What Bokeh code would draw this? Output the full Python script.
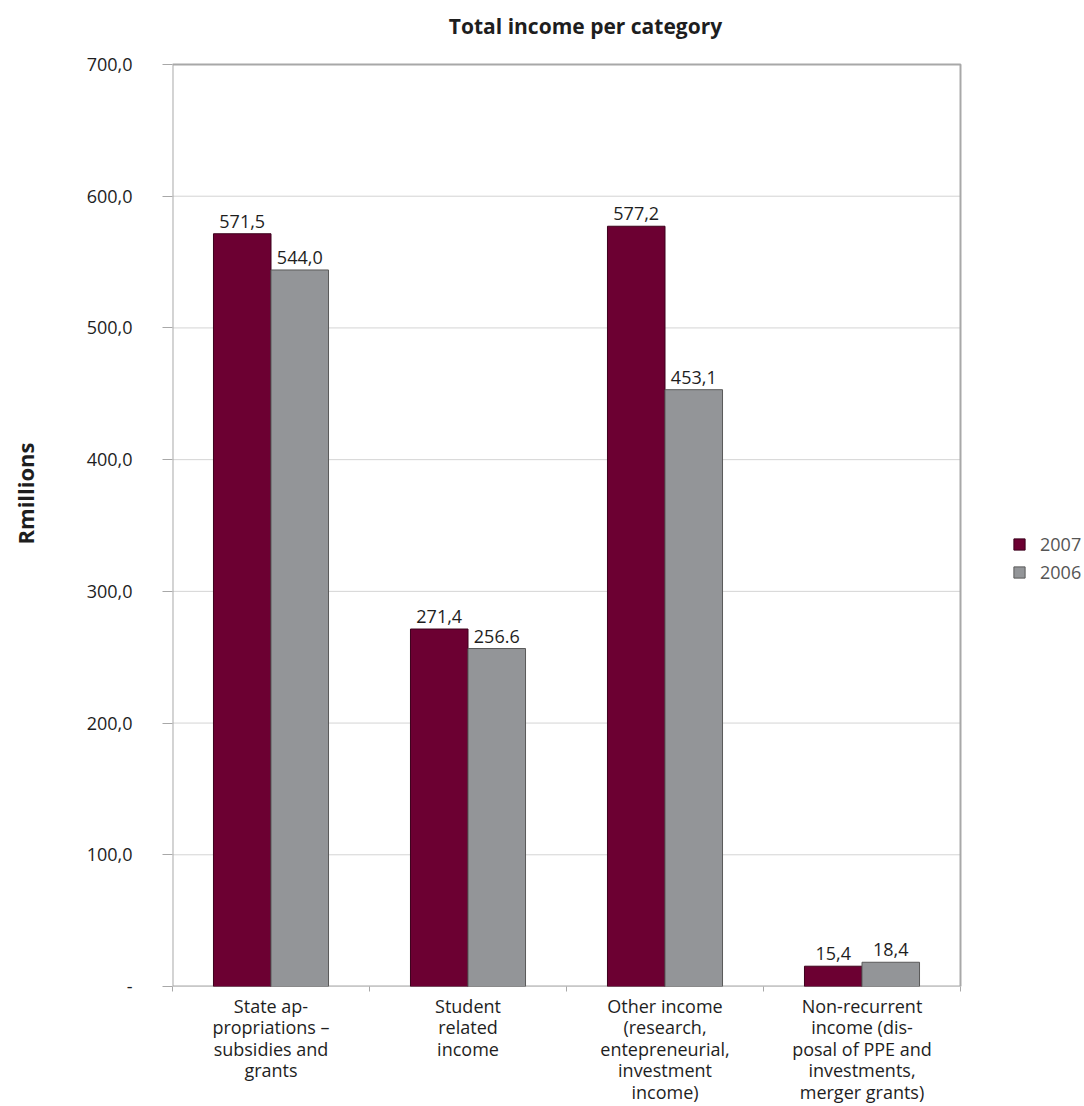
from bokeh.plotting import figure
from bokeh.models import Range1d, FixedTicker, ColumnDataSource, Legend, LegendItem
from bokeh.core.properties import value
from bokeh.embed import file_html
from bokeh.resources import INLINE

categories = [
    "State ap-\npropriations \u2013\nsubsidies and\ngrants",
    "Student\nrelated\nincome",
    "Other income\n(research,\nentepreneurial,\ninvestment\nincome)",
    "Non-recurrent\nincome (dis-\nposal of PPE and\ninvestments,\nmerger grants)",
]
series_names = ["2007", "2006"]
values_2007 = [571.5, 271.4, 577.2, 15.4]
values_2006 = [544.0, 256.6, 453.1, 18.4]
labels_2007 = ["571,5", "271,4", "577,2", "15,4"]
labels_2006 = ["544,0", "256.6", "453,1", "18,4"]
y_ticks = [0, 100, 200, 300, 400, 500, 600, 700]
y_tick_labels = ["-", "100,0", "200,0", "300,0", "400,0", "500,0", "600,0", "700,0"]
title_text = "Total income per category"
y_title = "Rmillions"

FONT = "Open Sans"
TXT = "#1e1e1e"
RED = "#6c0032"
GRAY = "#939598"
BORDER = "#a8a8a8"
FS = "18px"

W, H = 1084, 1106
LEFT, BOTTOM = 172, 120
PLOT_W = 788                      # pixel width of the plotted area (4 categories)
PLOT_TOP = 64                     # pixel y of the 700 line
n = len(categories)
y_max = y_ticks[-1]
frame_w = W - LEFT
frame_h = H - BOTTOM
x_end = n * frame_w / PLOT_W                     # frame extends right to hold the legend
y_end = y_max * frame_h / (frame_h - PLOT_TOP)   # and up to hold the title
px_per_y = (frame_h - PLOT_TOP) / y_max

p = figure(width=W, height=H, x_range=Range1d(0, x_end), y_range=Range1d(0, y_end),
           output_backend="svg", toolbar_location=None,
           min_border_left=LEFT, min_border_right=0, min_border_top=0, min_border_bottom=BOTTOM)
p.outline_line_color = None
p.background_fill_color = "white"
p.border_fill_color = "white"

# grid drawn only over the plotted area
p.xgrid.grid_line_color = None
p.ygrid.grid_line_color = None
p.segment(x0=[0] * len(y_ticks), x1=[n] * len(y_ticks), y0=y_ticks, y1=y_ticks,
          line_color="#d4d4d4", line_width=1)

# y axis
ya = p.yaxis[0]
ya.bounds = (0, y_max)
ya.ticker = FixedTicker(ticks=y_ticks)
ya.major_label_overrides = {t: l for t, l in zip(y_ticks, y_tick_labels)}
ya.major_label_text_font = FONT
ya.major_label_text_font_size = FS
ya.major_label_text_color = TXT
ya.major_label_standoff = 30
ya.major_tick_out = 10
ya.major_tick_in = 0
ya.minor_tick_out = 0
ya.minor_tick_in = 0
ya.major_tick_line_color = BORDER
ya.axis_line_color = None
ya.axis_label = y_title
ya.axis_label_text_font = FONT
ya.axis_label_text_font_size = "22px"
ya.axis_label_text_font_style = "bold"
ya.axis_label_text_color = TXT
ya.axis_label_standoff = 44

# x axis: labels at category centres, small ticks at category boundaries
centres = [i + 0.5 for i in range(n)]
xa = p.xaxis[0]
xa.ticker = FixedTicker(ticks=centres, minor_ticks=list(range(n + 1)))
xa.major_label_overrides = {c: lab for c, lab in zip(centres, categories)}
xa.major_label_text_font = FONT
xa.major_label_text_font_size = FS
xa.major_label_text_color = TXT
xa.major_label_text_line_height = 0.9
xa.major_label_standoff = 2
xa.major_tick_out = 0
xa.major_tick_in = 0
xa.minor_tick_out = 5
xa.minor_tick_in = 0
xa.minor_tick_line_color = BORDER
xa.axis_line_color = None

# plot area border
p.quad(left=[0], right=[n], bottom=[0], top=[y_max], fill_color=None, line_color=BORDER, line_width=2)

w = 0.292
x07 = [c - 0.146 for c in centres]
x06 = [c + 0.146 for c in centres]
src07 = ColumnDataSource(dict(x=x07, top=values_2007, lab=labels_2007))
src06 = ColumnDataSource(dict(x=x06, top=values_2006, lab=labels_2006))

r07 = p.vbar(x="x", top="top", width=w, bottom=0, source=src07, fill_color=RED, line_color="#3c001c", line_width=1)
r06 = p.vbar(x="x", top="top", width=w, bottom=0, source=src06, fill_color=GRAY, line_color="#5a5a5a", line_width=1)

for src in (src07, src06):
    p.text(x="x", y="top", text="lab", source=src, text_align="center", text_baseline="bottom",
           y_offset=-6, text_font=value(FONT), text_font_size=FS, text_color=TXT)

# title (above the plotted area, inside the extended frame)
p.text(x=[n * (585 - LEFT) / PLOT_W], y=[y_max + (PLOT_TOP - 25) / px_per_y], text=[title_text],
       text_align="center", text_baseline="middle", text_font=value(FONT), text_font_size="21px",
       text_font_style="bold", text_color=TXT)

legend = Legend(items=[LegendItem(label=series_names[0], renderers=[r07]),
                       LegendItem(label=series_names[1], renderers=[r06])],
                location=(840, 402), orientation="vertical")
legend.border_line_color = None
legend.background_fill_alpha = 0
legend.padding = 0
legend.margin = 0
legend.glyph_width = 14
legend.glyph_height = 14
legend.label_height = 20
legend.label_standoff = 14
legend.spacing = 4
legend.label_text_font = FONT
legend.label_text_font_size = FS
legend.label_text_color = "#555555"
p.add_layout(legend, "center")

open("out.html", "w").write(file_html(p, INLINE))
